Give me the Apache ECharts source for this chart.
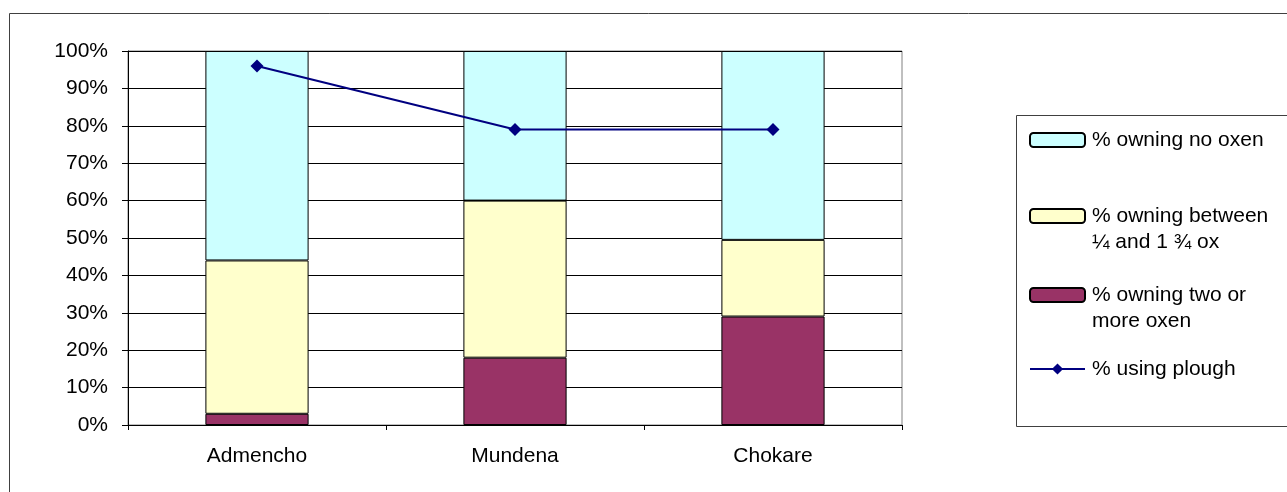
<!DOCTYPE html>
<html>
<head>
<meta charset="utf-8">
<script src="https://cdn.jsdelivr.net/npm/echarts@6/dist/echarts.min.js"></script>
<style>
  html, body { margin: 0; padding: 0; background: #ffffff; }
  #chart { width: 1287px; height: 492px; }
</style>
</head>
<body>
<div id="chart"></div>
<script>
// Villages on the category axis
const villages = ['Admencho', 'Mundena', 'Chokare'];

// Oxen ownership shares (%), stacked bottom to top
const twoOrMoreOxen = [3, 18, 29];
const quarterToOneThreeQuarterOx = [41, 42, 20.5];
const noOxen = [56, 40, 50.5];

// Share of households using a plough (%)
const usingPlough = [96, 79, 79];

// Series names as shown in the legend
const NAME_NONE = '% owning no oxen';
const NAME_BETWEEN = '% owning between\n\u00BC and 1 \u00BE ox';
const NAME_TWO = '% owning two or\nmore oxen';
const NAME_PLOUGH = '% using plough';

const FONT = '"Liberation Sans", Arial, sans-serif';
const FS = 21;

const chart = echarts.init(document.getElementById('chart'), null, { renderer: 'canvas' });

// One legend block per entry so each key sits at its own height;
// two-line entries get a leading blank line so the key lines up with the first line.
function legendAt(name, top, twoLines) {
  return {
    show: true,
    data: [name],
    orient: 'vertical',
    left: 1029,
    top: top,
    padding: 0,
    itemWidth: 55,
    itemHeight: 14,
    selectedMode: false,
    formatter: twoLines ? function (n) { return '\n' + n; } : '{name}',
    textStyle: {
      fontFamily: FONT,
      fontSize: FS,
      color: '#000',
      lineHeight: 26,
      padding: [0, 0, 0, 2]
    }
  };
}

const barBase = {
  type: 'bar',
  stack: 'oxen',
  barWidth: '40%',
  emphasis: { disabled: true }
};

chart.setOption({
  animation: false,
  backgroundColor: '#ffffff',
  graphic: [
    {
      type: 'rect',
      shape: { x: 9.5, y: 13.5, width: 1300, height: 500 },
      style: { fill: 'none', stroke: '#404040', lineWidth: 1 },
      silent: true
    },
    {
      type: 'rect',
      shape: { x: 1016.5, y: 115.5, width: 300, height: 311 },
      style: { fill: 'none', stroke: '#404040', lineWidth: 1 },
      silent: true
    }
  ],
  legend: [
    legendAt(NAME_NONE, 127, false),
    legendAt(NAME_BETWEEN, 177, true),
    legendAt(NAME_TWO, 256, true),
    legendAt(NAME_PLOUGH, 356, false)
  ],
  grid: {
    left: 128,
    top: 51,
    width: 774,
    height: 374,
    show: true,
    borderColor: '#808080',
    borderWidth: 1,
    backgroundColor: 'transparent'
  },
  xAxis: {
    type: 'category',
    data: villages,
    boundaryGap: true,
    axisLine: { lineStyle: { color: '#000', width: 1 } },
    axisTick: { show: true, length: 5, inside: false, lineStyle: { color: '#000' } },
    axisLabel: { color: '#000', fontFamily: FONT, fontSize: FS, margin: 21 },
    splitLine: { show: false }
  },
  yAxis: {
    type: 'value',
    min: 0,
    max: 100,
    interval: 10,
    axisLine: { show: true, lineStyle: { color: '#000', width: 1 } },
    axisTick: { show: true, length: 6, inside: false, lineStyle: { color: '#000' } },
    axisLabel: { color: '#000', fontFamily: FONT, fontSize: FS, margin: 20, formatter: '{value}%' },
    splitLine: { show: true, lineStyle: { color: '#000', width: 1 } }
  },
  series: [
    Object.assign({}, barBase, {
      name: NAME_TWO,
      data: twoOrMoreOxen,
      itemStyle: { color: '#993366', borderColor: '#000', borderWidth: 1 }
    }),
    Object.assign({}, barBase, {
      name: NAME_BETWEEN,
      data: quarterToOneThreeQuarterOx,
      itemStyle: { color: '#FFFFCC', borderColor: '#000', borderWidth: 1 }
    }),
    Object.assign({}, barBase, {
      name: NAME_NONE,
      data: noOxen,
      itemStyle: { color: '#CCFFFF', borderColor: '#000', borderWidth: 1 }
    }),
    {
      name: NAME_PLOUGH,
      type: 'line',
      data: usingPlough,
      symbol: 'diamond',
      symbolSize: 13,
      lineStyle: { color: '#000080', width: 2 },
      itemStyle: { color: '#000080' },
      emphasis: { disabled: true },
      z: 5
    }
  ]
});
</script>
</body>
</html>
